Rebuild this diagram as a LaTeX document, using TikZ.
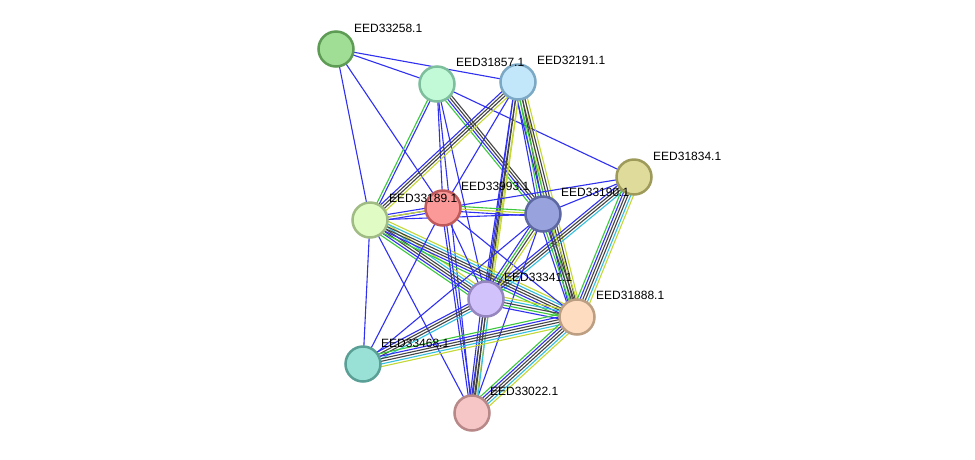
\documentclass[tikz,border=0pt]{standalone}
\usepackage{fontspec}
\setmainfont{Liberation Sans}
\usetikzlibrary{calc}
\pgfdeclarelayer{background}
\pgfsetlayers{background,main}
\definecolor{sb}{HTML}{3030F2}
\definecolor{sg}{HTML}{3CC83C}
\definecolor{sk}{HTML}{454545}
\definecolor{sy}{HTML}{C4D835}
\definecolor{sc}{HTML}{33BFE0}
\tikzset{
  prot/.style={circle, minimum size=35pt, inner sep=0pt, line width=2.5pt},
  lbl/.style={anchor=west, inner sep=0pt, font=\fontsize{12}{14}\selectfont},
  edgeline/.style={line width=1.1pt}
}
\newcommand\sedge[3]{%
  \gdef\nl{0}%
  \foreach \c in {#3}{\pgfmathparse{int(\nl+1)}\xdef\nl{\pgfmathresult}}%
  \foreach \c [count=\i] in {#3}{%
    \pgfmathsetmacro\off{(\i-(\nl+1)/2)*2.6}%
    \draw[\c, edgeline] let \p1=($(#2.center)-(#1.center)$), \n1={atan2(\y1,\x1)+90} in
      ($(#1.center)+(\n1:\off pt)$) -- ($(#2.center)+(\n1:\off pt)$);
  }%
}
\begin{document}
\begin{tikzpicture}[x=1pt,y=-1pt]
\useasboundingbox (0,0) rectangle (975,459);
\node[prot, fill={rgb,255:red,160;green,222;blue,150}, draw={rgb,255:red,94;green,156;blue,85}] (A) at (336,49) {};
\node[prot, fill={rgb,255:red,194;green,250;blue,216}, draw={rgb,255:red,125;green,191;blue,156}] (B) at (437,84) {};
\node[prot, fill={rgb,255:red,194;green,230;blue,250}, draw={rgb,255:red,123;green,168;blue,196}] (C) at (518,82) {};
\node[prot, fill={rgb,255:red,222;green,219;blue,155}, draw={rgb,255:red,158;green,155;blue,90}] (D) at (634,177) {};
\node[prot, fill={rgb,255:red,224;green,252;blue,196}, draw={rgb,255:red,160;green,188;blue,132}] (E) at (370,220) {};
\node[prot, fill={rgb,255:red,251;green,152;blue,152}, draw={rgb,255:red,192;green,90;blue,90}] (F) at (443,208) {};
\node[prot, fill={rgb,255:red,152;green,162;blue,220}, draw={rgb,255:red,93;green,104;blue,162}] (G) at (543,214) {};
\node[prot, fill={rgb,255:red,210;green,194;blue,251}, draw={rgb,255:red,150;green,134;blue,192}] (H) at (486,299) {};
\node[prot, fill={rgb,255:red,253;green,220;blue,192}, draw={rgb,255:red,188;green,158;blue,130}] (I) at (577,317) {};
\node[prot, fill={rgb,255:red,153;green,224;blue,214}, draw={rgb,255:red,89;green,159;blue,150}] (J) at (363,364) {};
\node[prot, fill={rgb,255:red,246;green,198;blue,198}, draw={rgb,255:red,184;green,135;blue,135}] (K) at (472,413) {};
\begin{pgfonlayer}{background}
\fill[white] (0,0) rectangle (975,459);
\sedge{A}{B}{sb}
\sedge{A}{C}{sb}
\sedge{A}{E}{sb}
\sedge{A}{F}{sb}
\sedge{B}{D}{sb}
\sedge{B}{E}{sg,sb}
\sedge{B}{F}{sb}
\sedge{B}{G}{sg,sb,sk,sk}
\sedge{B}{H}{sb}
\sedge{B}{K}{sb}
\sedge{C}{E}{sb,sk,sk,sy}
\sedge{C}{F}{sb}
\sedge{C}{G}{sb,sg,sk,sy}
\sedge{C}{H}{sb,sk,sy}
\sedge{C}{I}{sb,sg,sk,sk,sy}
\sedge{C}{K}{sb,sk,sy}
\sedge{D}{E}{sb}
\sedge{D}{G}{sb}
\sedge{D}{H}{sb,sk,sk,sc}
\sedge{D}{I}{sg,sb,sk,sk,sc,sy}
\sedge{E}{F}{sb,sy,sb}
\sedge{E}{G}{sb}
\sedge{F}{G}{sb,sy,sg}
\sedge{E}{H}{sg,sb,sk,sk,sc,sy}
\sedge{E}{I}{sg,sb,sk,sk,sc,sy}
\sedge{E}{J}{sb}
\sedge{E}{K}{sb}
\sedge{F}{H}{sb}
\sedge{F}{I}{sb}
\sedge{F}{J}{sb}
\sedge{F}{K}{sb,sb}
\sedge{G}{H}{sb,sg,sk,sy}
\sedge{G}{I}{sb,sg,sk,sk,sy}
\sedge{G}{J}{sb}
\sedge{G}{K}{sb}
\sedge{H}{I}{sb,sg,sk,sc,sy}
\sedge{H}{J}{sb,sk,sk,sc}
\sedge{H}{K}{sb,sk,sk,sc}
\sedge{I}{J}{sg,sb,sk,sk,sc,sy}
\sedge{I}{K}{sg,sb,sk,sk,sc,sy}
\end{pgfonlayer}
\node[lbl] (lA) at ($(A)+(18,-21)$) {EED33258.1};
\node[lbl] (lB) at ($(B)+(19,-22)$) {EED31857.1};
\node[lbl] (lC) at ($(C)+(19,-22)$) {EED32191.1};
\node[lbl] (lD) at ($(D)+(19,-21)$) {EED31834.1};
\node[lbl] (lE) at ($(E)+(19,-22)$) {EED33189.1};
\node[lbl] (lF) at ($(F)+(18,-22)$) {EED33993.1};
\node[lbl] (lG) at ($(G)+(18,-22)$) {EED33190.1};
\node[lbl] (lH) at ($(H)+(18,-22)$) {EED33341.1};
\node[lbl] (lI) at ($(I)+(19,-22)$) {EED31888.1};
\node[lbl] (lJ) at ($(J)+(18,-21)$) {EED33468.1};
\node[lbl] (lK) at ($(K)+(18,-22)$) {EED33022.1};
\end{tikzpicture}
\end{document}
